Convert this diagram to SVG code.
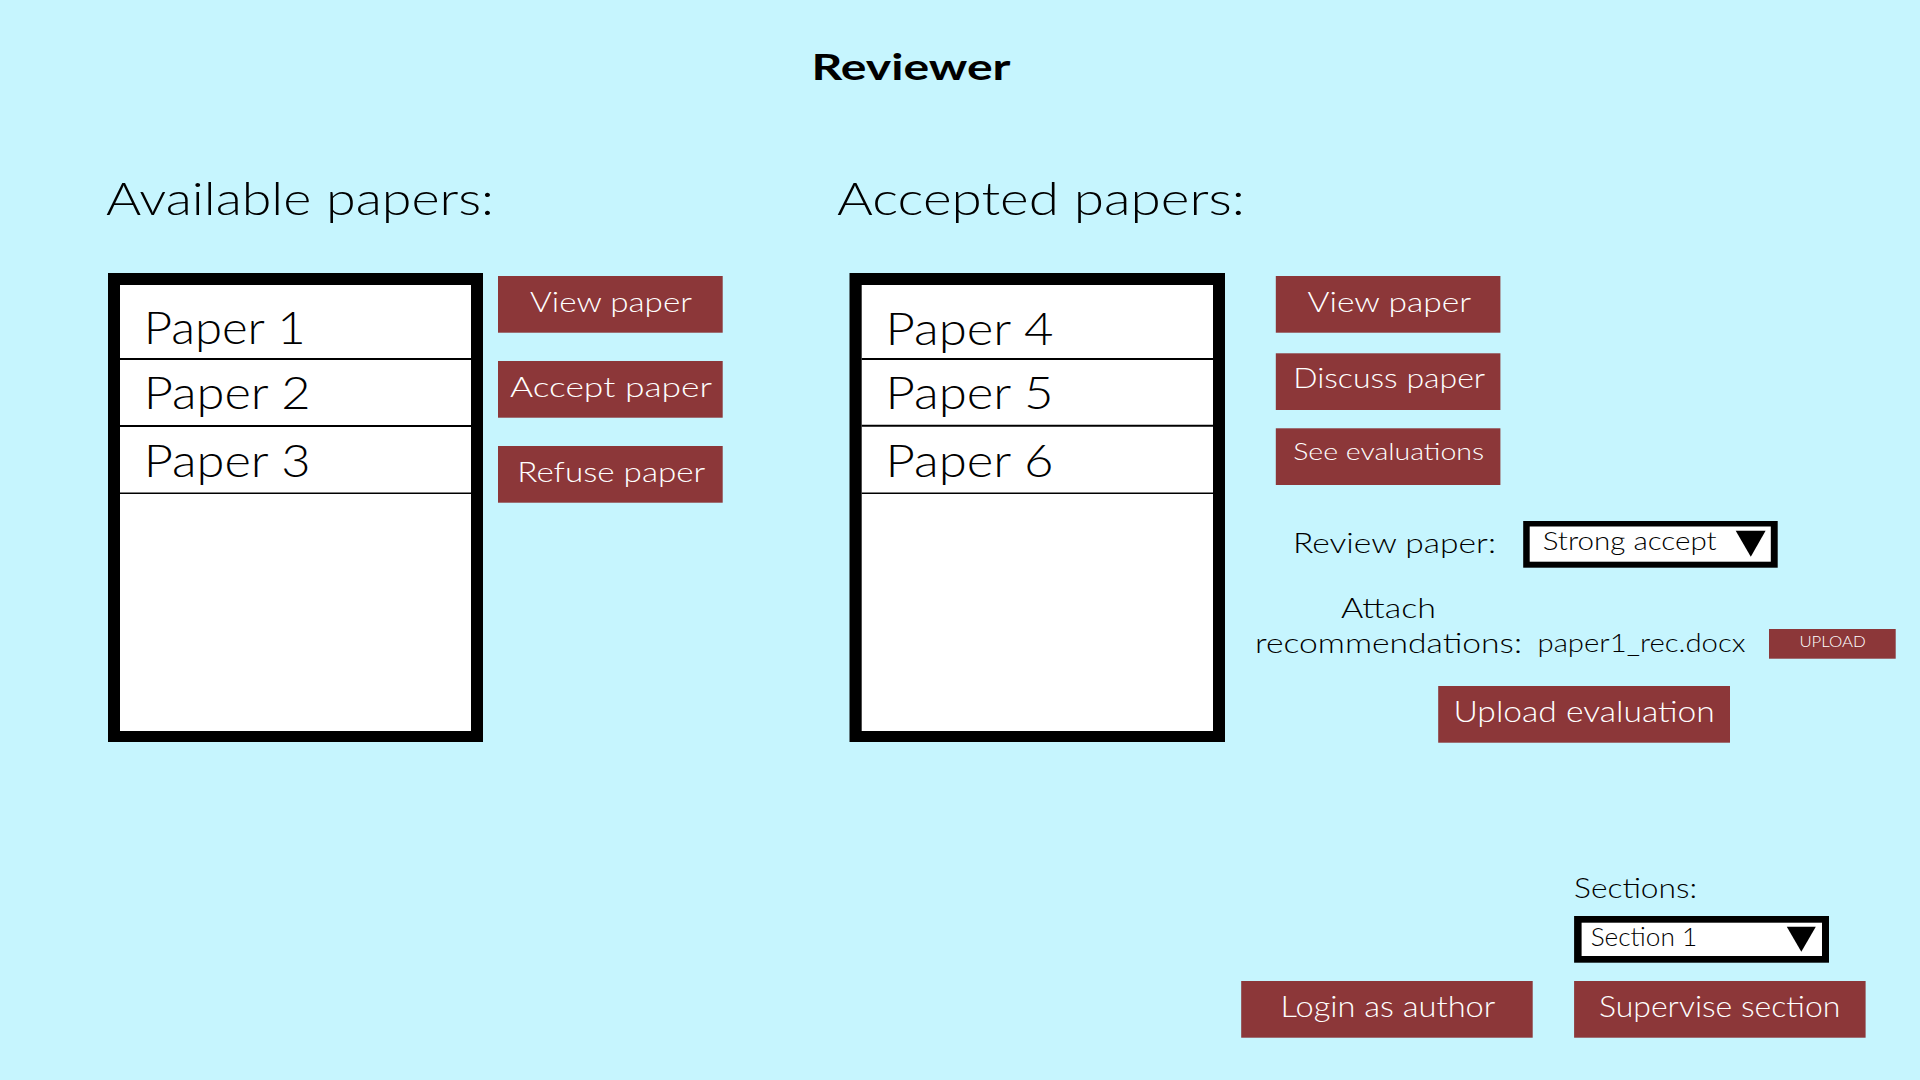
<svg xmlns="http://www.w3.org/2000/svg" width="1920" height="1080" viewBox="0 0 1920 1080">
<style>
text{font-family:"Lato","Liberation Sans",sans-serif;fill:#000;font-weight:300}
.btn rect{fill:#8C3739}
.btn text{fill:#fff}
.h{font-size:45px}
.p{font-size:45px}
.b{font-size:28px}
.m{font-size:28px}
.row{stroke:#000}
</style>
<rect x="0" y="0" width="1920" height="1080" fill="#C6F5FE"/>
<g id="title"><text x="911" y="79.5" font-size="37" style="font-weight:bold" text-anchor="middle" textLength="199" lengthAdjust="spacingAndGlyphs">Reviewer</text></g>
<g id="available-heading"><text class="h" x="106" y="215" textLength="388" lengthAdjust="spacingAndGlyphs">Available papers:</text></g>
<g id="accepted-heading"><text class="h" x="837" y="215" textLength="408" lengthAdjust="spacingAndGlyphs">Accepted papers:</text></g>
<g id="available-list">
<rect x="108" y="273" width="375" height="469" fill="#000"/>
<rect x="120" y="285" width="351" height="446" fill="#fff"/>
<line class="row" x1="120" y1="359" x2="471" y2="359" stroke-width="2"/>
<line class="row" x1="120" y1="426" x2="471" y2="426" stroke-width="2"/>
<line class="row" x1="120" y1="493.3" x2="471" y2="493.3" stroke-width="1.5"/>
<text class="p" x="143.7" y="344.3" textLength="162" lengthAdjust="spacingAndGlyphs">Paper 1</text>
<text class="p" x="143.7" y="409.3" textLength="167" lengthAdjust="spacingAndGlyphs">Paper 2</text>
<text class="p" x="143.7" y="476.7" textLength="167" lengthAdjust="spacingAndGlyphs">Paper 3</text>
</g>
<g id="accepted-list">
<rect x="849.5" y="273" width="375.5" height="469" fill="#000"/>
<rect x="861.7" y="285" width="351.3" height="446" fill="#fff"/>
<line class="row" x1="861.7" y1="359" x2="1213" y2="359" stroke-width="2"/>
<line class="row" x1="861.7" y1="425.7" x2="1213" y2="425.7" stroke-width="2"/>
<line class="row" x1="861.7" y1="493.3" x2="1213" y2="493.3" stroke-width="1.5"/>
<text class="p" x="885.5" y="345" textLength="168" lengthAdjust="spacingAndGlyphs">Paper 4</text>
<text class="p" x="885.5" y="409" textLength="168" lengthAdjust="spacingAndGlyphs">Paper 5</text>
<text class="p" x="885.5" y="476.7" textLength="168" lengthAdjust="spacingAndGlyphs">Paper 6</text>
</g>
<g id="btn-view-available" class="btn"><rect x="498" y="276" width="224.7" height="56.7"/><text class="b" x="530" y="311.7" textLength="162" lengthAdjust="spacingAndGlyphs">View paper</text></g>
<g id="btn-accept" class="btn"><rect x="498" y="361" width="224.7" height="56.7"/><text class="b" x="510" y="396.7" textLength="202" lengthAdjust="spacingAndGlyphs">Accept paper</text></g>
<g id="btn-refuse" class="btn"><rect x="498" y="446" width="224.7" height="56.7"/><text class="b" x="517.3" y="481.7" textLength="188" lengthAdjust="spacingAndGlyphs">Refuse paper</text></g>
<g id="btn-view-accepted" class="btn"><rect x="1275.8" y="276" width="224.6" height="56.7"/><text class="b" x="1307.5" y="311.7" textLength="163.5" lengthAdjust="spacingAndGlyphs">View paper</text></g>
<g id="btn-discuss" class="btn"><rect x="1275.8" y="353.3" width="224.6" height="56.7"/><text class="b" x="1293.2" y="388.3" textLength="192" lengthAdjust="spacingAndGlyphs">Discuss paper</text></g>
<g id="btn-evaluations" class="btn"><rect x="1275.8" y="428.3" width="224.6" height="56.7"/><text x="1293.2" y="460" font-size="24" textLength="191" lengthAdjust="spacingAndGlyphs">See evaluations</text></g>
<g id="review-label"><text class="m" x="1293" y="553.3" textLength="203" lengthAdjust="spacingAndGlyphs">Review paper:</text></g>
<g id="review-dropdown">
<rect x="1523.2" y="521" width="254.5" height="46.7" fill="#000"/>
<rect x="1529.7" y="526.5" width="241.1" height="35.2" fill="#fff"/>
<text x="1542.7" y="550" font-size="25" textLength="174" lengthAdjust="spacingAndGlyphs">Strong accept</text>
<polygon points="1735.7,530.7 1765.6,530.7 1750.8,556.7" fill="#000"/>
</g>
<g id="attach-label">
<text class="m" x="1388.5" y="618.3" text-anchor="middle" textLength="95" lengthAdjust="spacingAndGlyphs">Attach</text>
<text class="m" x="1388.5" y="652.7" text-anchor="middle" textLength="267" lengthAdjust="spacingAndGlyphs">recommendations:</text>
</g>
<g id="attach-file"><text x="1537.5" y="651.7" font-size="25" textLength="208" lengthAdjust="spacingAndGlyphs">paper1_rec.docx</text></g>
<g id="btn-upload" class="btn"><rect x="1769" y="629" width="126.7" height="29.7"/><text x="1799.4" y="647" font-size="16.5" textLength="66.4" lengthAdjust="spacingAndGlyphs">UPLOAD</text></g>
<g id="btn-upload-evaluation" class="btn"><rect x="1438.2" y="686" width="291.8" height="56.7"/><text x="1453.4" y="721.7" font-size="30" textLength="261.4" lengthAdjust="spacingAndGlyphs">Upload evaluation</text></g>
<g id="sections-label"><text class="m" x="1574.1" y="898.3" textLength="123" lengthAdjust="spacingAndGlyphs">Sections:</text></g>
<g id="sections-dropdown">
<rect x="1574.1" y="916" width="254.9" height="46.7" fill="#000"/>
<rect x="1581.6" y="922.7" width="240.4" height="33.3" fill="#fff"/>
<text x="1590.7" y="946" font-size="25" textLength="106.5" lengthAdjust="spacingAndGlyphs">Section 1</text>
<polygon points="1786.8,926.7 1815.8,926.7 1801.3,951.7" fill="#000"/>
</g>
<g id="btn-login-author" class="btn"><rect x="1241.2" y="981" width="291.5" height="56.7"/><text x="1280.6" y="1016.7" font-size="29" textLength="214.7" lengthAdjust="spacingAndGlyphs">Login as author</text></g>
<g id="btn-supervise" class="btn"><rect x="1574.1" y="981" width="291.5" height="56.7"/><text x="1599" y="1016.7" font-size="29" textLength="241.3" lengthAdjust="spacingAndGlyphs">Supervise section</text></g>
</svg>
